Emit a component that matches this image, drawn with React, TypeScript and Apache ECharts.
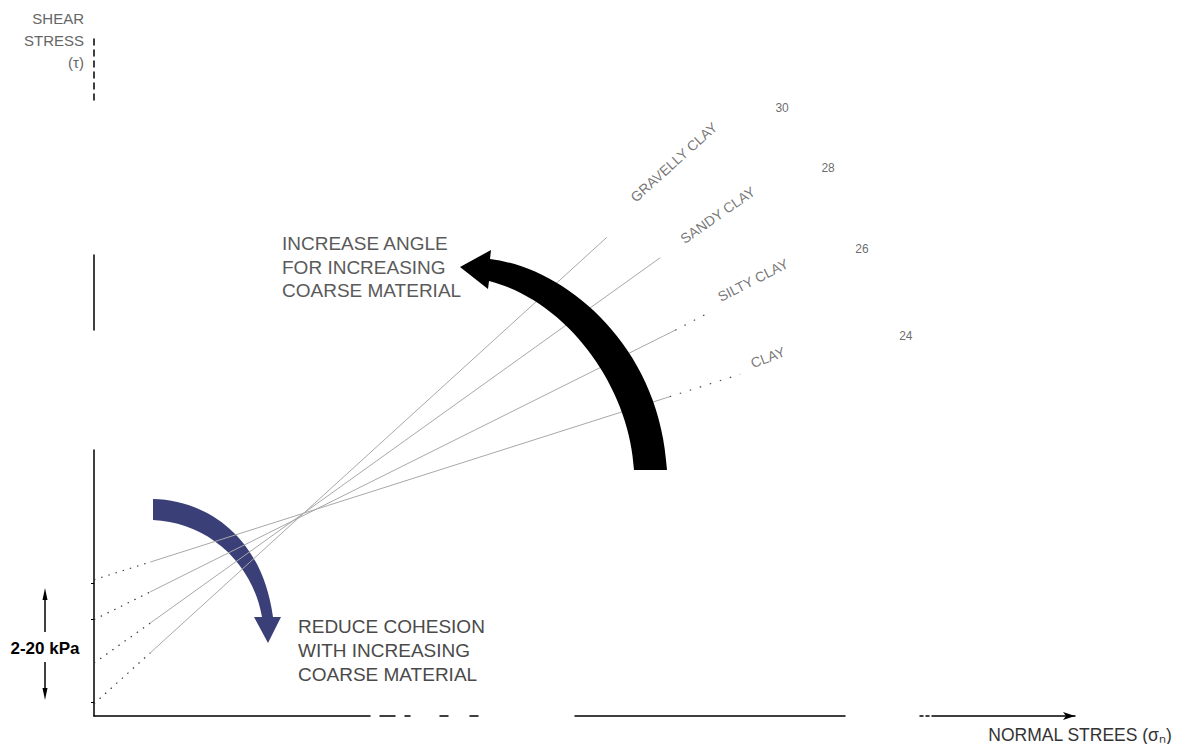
import React, { useEffect, useRef } from 'react';
import * as echarts from 'echarts';

// Failure envelopes (shear stress vs normal stress, both in kPa)
const soilTypes = ['GRAVELLY CLAY', 'SANDY CLAY', 'SILTY CLAY', 'CLAY'];
// friction angle written at the far end of each envelope
const angleLabels = ['30', '28', '26', '24'];
// cohesion intercept on the shear stress axis
const cohesion = [1.8, 7.8, 14.2, 20.1];
// end of the dotted stub that leaves the shear stress axis
const stubEnd = [[8.3, 9.3], [8.3, 13.7], [8.3, 18.3], [8.3, 22.7]];
// end of the drawn envelope
const envelopeEnd = [[75.8, 70.6], [83.7, 67.6], [85.9, 56.9], [85.1, 47.1]];
// dotted lead-out towards the soil name (none for the two steeper ones)
const tailEnd: (number[] | null)[] = [null, null, [90.5, 59.3], [95.5, 50.4]];
// anchors of the soil names and angle values, in kPa
const nameAt = [[85.7, 81.7], [92.2, 73.9], [97.4, 64.3], [99.6, 52.9]];
const nameTilt = [42, 35, 27, 21];
const angleAt = [[101.7, 89.7], [108.5, 80.8], [113.5, 68.9], [120.0, 56.0]];
// small marks on the shear stress axis
const cohesionTicks = [2.1, 14.3, 19.6];

const FONT = '"Liberation Sans", Arial, Helvetica, sans-serif';

// curved arrows drawn as filled outlines
echarts.graphic.registerShape(
  'riseArrow',
  echarts.graphic.extendPath(
    'M 460 267 L 491 250 L 490 259 C 565 268 660 345 667 470 L 634 470 C 630 390 570 302 489 281 L 488 289 Z',
    {}
  )
);
echarts.graphic.registerShape(
  'dropArrow',
  echarts.graphic.extendPath(
    'M 153 499 C 205 500 262 535 273 617 L 281 617 L 268 643 L 254 617 L 262 617 C 252 560 205 522 153 520 Z',
    {}
  )
);

function buildOption() {
  const series: any[] = [];
  soilTypes.forEach((name, i) => {
    series.push({
      type: 'line',
      name: name + ' (stub)',
      data: [[0, cohesion[i]], stubEnd[i]],
      symbol: 'none',
      silent: true,
      z: 3,
      lineStyle: { color: '#3a3a3a', width: 1.2, type: [1.5, 6] },
    });
    series.push({
      type: 'line',
      name,
      data: [stubEnd[i], envelopeEnd[i]],
      symbol: 'none',
      silent: true,
      z: 2,
      lineStyle: { color: '#a8a8a8', width: 1 },
    });
    const tail = tailEnd[i];
    if (tail) {
      series.push({
        type: 'line',
        name: name + ' (lead)',
        data: [envelopeEnd[i], tail],
        symbol: 'none',
        silent: true,
        z: 3,
        lineStyle: { color: '#4a4a4a', width: 1.2, type: [1.5, 9] },
      });
    }
  });

  series.push({
    type: 'scatter',
    name: 'soil names',
    symbolSize: 0,
    silent: true,
    z: 5,
    data: nameAt.map((p, i) => ({
      value: p,
      label: {
        show: true,
        position: 'inside',
        rotate: nameTilt[i],
        formatter: soilTypes[i],
        color: '#555',
        fontSize: 14,
        fontFamily: FONT,
      },
    })),
  });
  series.push({
    type: 'scatter',
    name: 'angles',
    symbolSize: 0,
    silent: true,
    z: 5,
    data: angleAt.map((p, i) => ({
      value: p,
      label: {
        show: true,
        position: 'inside',
        formatter: angleLabels[i],
        color: '#444',
        fontSize: 12,
        fontFamily: FONT,
      },
    })),
  });

  const textStyle = (fill: string, size: number, bold = false) => ({
    fill,
    fontSize: size,
    fontWeight: bold ? 'bold' : 'normal',
    fontFamily: FONT,
  });

  return {
    animation: false,
    backgroundColor: '#fff',
    grid: { left: 94, right: 120, top: 38, bottom: 28, containLabel: false },
    xAxis: {
      type: 'value',
      min: 0,
      max: 145,
      name: 'NORMAL STREES (σₙ)',
      nameLocation: 'end',
      nameGap: 5,
      nameTextStyle: {
        color: '#333',
        fontSize: 17.5,
        fontFamily: FONT,
        align: 'center',
        verticalAlign: 'top',
        padding: [10, 0, 0, 0],
      },
      axisLine: {
        show: true,
        symbol: ['none', 'arrow'],
        symbolSize: [6, 12],
        lineStyle: {
          color: '#000',
          width: 1.5,
          type: [276, 10, 15, 10, 5, 30, 8, 22, 8, 97, 270, 75, 3, 3, 3, 3, 200],
        },
      },
      axisTick: { show: false },
      axisLabel: { show: false },
      splitLine: { show: false },
    },
    yAxis: {
      type: 'value',
      min: 0,
      max: 100,
      name: 'SHEAR\nSTRESS\n(τ)',
      nameLocation: 'end',
      nameGap: 31,
      nameTextStyle: {
        color: '#666',
        fontSize: 15,
        lineHeight: 22,
        fontFamily: FONT,
        align: 'right',
        verticalAlign: 'top',
        padding: [0, 10, 0, 0],
      },
      axisLine: {
        show: true,
        lineStyle: {
          color: '#000',
          width: 1.5,
          type: [266, 120, 75, 155, 6, 5, 6, 5, 6, 5, 6, 5, 6, 5, 6, 5, 6, 5],
        },
      },
      axisTick: {
        show: true,
        customValues: cohesionTicks,
        length: 3,
        lineStyle: { color: '#000', width: 1 },
      },
      axisLabel: { show: false },
      splitLine: { show: false },
    },
    series,
    graphic: [
      { type: 'dropArrow', x: 0, y: 0, z: 1, silent: true, style: { fill: '#3a3f77' } },
      { type: 'riseArrow', x: 0, y: 0, z: 10, silent: true, style: { fill: '#000' } },
      {
        type: 'text',
        x: 282,
        y: 232,
        z: 10,
        silent: true,
        style: {
          text: 'INCREASE ANGLE\nFOR INCREASING\nCOARSE MATERIAL',
          ...textStyle('#5a5a5a', 19),
          lineHeight: 23.5,
          align: 'left',
          textAlign: 'left',
          verticalAlign: 'top',
          textVerticalAlign: 'top',
        },
      },
      {
        type: 'text',
        x: 298,
        y: 614,
        z: 10,
        silent: true,
        style: {
          text: 'REDUCE COHESION\nWITH INCREASING\nCOARSE MATERIAL',
          ...textStyle('#4a4a4a', 19),
          lineHeight: 24,
          align: 'left',
          textAlign: 'left',
          verticalAlign: 'top',
          textVerticalAlign: 'top',
        },
      },
      {
        type: 'text',
        x: 45,
        y: 648,
        z: 10,
        silent: true,
        style: {
          text: '2-20 kPa',
          ...textStyle('#000', 17, true),
          align: 'center',
          textAlign: 'center',
          verticalAlign: 'middle',
          textVerticalAlign: 'middle',
        },
      },
      { type: 'line', silent: true, shape: { x1: 45, y1: 596, x2: 45, y2: 632 }, style: { stroke: '#000', lineWidth: 1.5 } },
      { type: 'polygon', silent: true, shape: { points: [[45, 588], [42.5, 600], [47.5, 600]] }, style: { fill: '#000' } },
      { type: 'line', silent: true, shape: { x1: 45, y1: 662, x2: 45, y2: 692 }, style: { stroke: '#000', lineWidth: 1.5 } },
      { type: 'polygon', silent: true, shape: { points: [[45, 700], [42.5, 688], [47.5, 688]] }, style: { fill: '#000' } },
    ],
  };
}

export default function App() {
  const ref = useRef<HTMLDivElement>(null);
  useEffect(() => {
    if (!ref.current) return;
    const chart = echarts.init(ref.current, undefined, { renderer: 'svg' });
    chart.setOption(buildOption() as any);
    return () => chart.dispose();
  }, []);
  return (
    <div
      ref={ref}
      style={{ position: 'fixed', left: 0, top: 0, width: 1195, height: 744, background: '#fff' }}
    />
  );
}
